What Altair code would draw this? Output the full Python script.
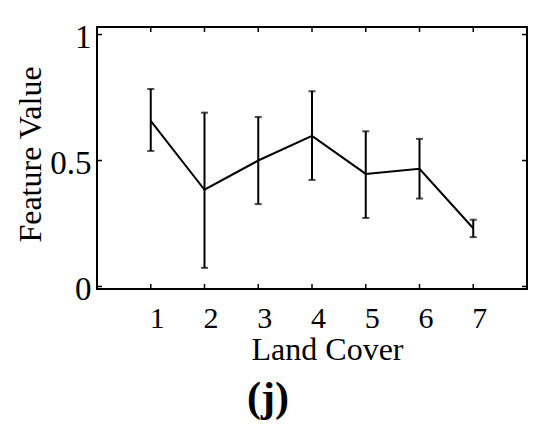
import altair as alt
import pandas as pd

land_cover = [1, 2, 3, 4, 5, 6, 7]
mean_value = [0.657, 0.384, 0.500, 0.598, 0.447, 0.467, 0.231]
upper_value = [0.784, 0.690, 0.673, 0.775, 0.616, 0.586, 0.265]
lower_value = [0.538, 0.074, 0.327, 0.423, 0.272, 0.349, 0.196]
x_ticks = [1, 2, 3, 4, 5, 6, 7]
y_ticks = [0, 0.5, 1]

W, H = 430, 262
FONT = "Liberation Serif"

df = pd.DataFrame({"x": land_cover, "m": mean_value, "hi": upper_value, "lo": lower_value})
xt = pd.DataFrame({"t": x_ticks})
yt = pd.DataFrame({"t": y_ticks})

xs = alt.Scale(domain=[0, 8], nice=False, zero=False)
ys = alt.Scale(domain=[-0.01, 1.03], nice=False, zero=False)

base = alt.Chart(df)

line = base.mark_line(color="black", strokeWidth=2).encode(
    x=alt.X("x:Q", scale=xs, axis=alt.Axis(
        values=x_ticks, ticks=False, domain=False, grid=False, labelFontSize=30,
        labelFont=FONT, labelColor="black", labelPadding=14, labelOffset=6,
        title="Land Cover", titleFont=FONT, titleFontSize=32, titleFontWeight="normal",
        titleColor="black", titleX=230, titleY=70, titleBaseline="alphabetic",
        titleAlign="center")),
    y=alt.Y("m:Q", scale=ys, axis=alt.Axis(
        values=y_ticks, ticks=False, domain=False, grid=False, labelFontSize=33,
        labelFont=FONT, labelColor="black", labelPadding=6, labelOffset=3,
        labelExpr="datum.value == 0.5 ? '0.5' : format(datum.value, 'd')",
        title="Feature Value", titleFont=FONT, titleFontSize=32, titleFontWeight="normal",
        titleColor="black", titleX=-57, titleY=127, titleAngle=270,
        titleBaseline="alphabetic", titleAlign="center")),
)

bars = base.mark_rule(color="black", strokeWidth=2).encode(
    x=alt.X("x:Q", scale=xs), y=alt.Y("lo:Q", scale=ys), y2="hi:Q")
cap_hi = base.mark_tick(color="black", orient="horizontal", size=7, thickness=2).encode(
    x=alt.X("x:Q", scale=xs), y=alt.Y("hi:Q", scale=ys))
cap_lo = base.mark_tick(color="black", orient="horizontal", size=7, thickness=2).encode(
    x=alt.X("x:Q", scale=xs), y=alt.Y("lo:Q", scale=ys))

xt_bot = alt.Chart(xt).mark_rule(color="black", strokeWidth=1.5).encode(
    x=alt.X("t:Q", scale=xs), y=alt.value(H), y2=alt.value(H - 5))
xt_top = alt.Chart(xt).mark_rule(color="black", strokeWidth=1.5).encode(
    x=alt.X("t:Q", scale=xs), y=alt.value(0), y2=alt.value(5))
yt_left = alt.Chart(yt).mark_rule(color="black", strokeWidth=1.5).encode(
    y=alt.Y("t:Q", scale=ys), x=alt.value(0), x2=alt.value(5))
yt_right = alt.Chart(yt).mark_rule(color="black", strokeWidth=1.5).encode(
    y=alt.Y("t:Q", scale=ys), x=alt.value(W), x2=alt.value(W - 5))

label = alt.Chart(pd.DataFrame({"s": ["(j)"]})).mark_text(
    font=FONT, fontSize=42, fontWeight="bold", color="black", align="center",
    baseline="alphabetic").encode(
    text="s:N", x=alt.value(171), y=alt.value(384))

chart = alt.layer(line, bars, cap_hi, cap_lo, xt_bot, xt_top, yt_left, yt_right, label).properties(
    width=W, height=H,
    autosize=alt.AutoSizeParams(type="none"),
    padding={"left": 89, "top": 19, "right": 15, "bottom": 140},
).configure(background="white").configure_view(stroke="black", strokeWidth=2)

chart.save("out.html", embed_options={"renderer": "svg", "actions": False})
